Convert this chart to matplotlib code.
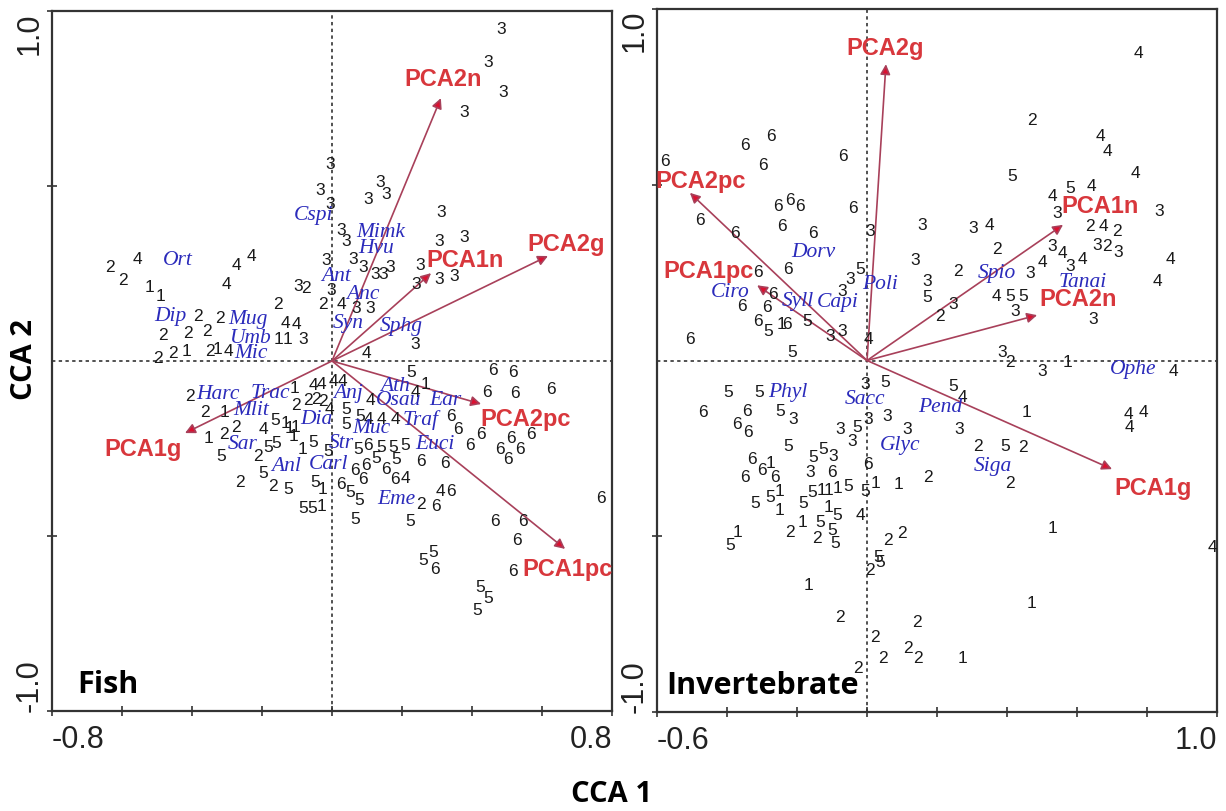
import numpy as np
import matplotlib
matplotlib.use('Agg')
import matplotlib.pyplot as plt

plt.rcParams['font.family'] = ['Liberation Sans', 'DejaVu Sans']

# ---- Fish panel: site scores (digit = site group) ----
fish_sites = ("224114443224411322222221214"
              "333333333333333243334" "33333333333"
              "22112245111122224444455544445416666"
              "25515155522551551655"
              "565556656564666462655"
              "666666666666665566555")
fish_x = [-0.634, -0.597, -0.557, -0.52, -0.489, -0.274, -0.231, -0.303, -0.097, -0.074,
          -0.154, -0.134, -0.103, -0.154, -0.126, -0.083, -0.383, -0.32, -0.483, -0.411,
          -0.357, -0.497, -0.454, -0.417, -0.349, -0.326, -0.297,
          -0.006, -0.034, -0.006, 0.137, 0.154, 0.103, 0.026, 0.04, 0.06, 0.089,
          0.123, 0.146, 0.166, -0.017, -0.003, -0.026, 0.026, 0.069, 0.109, 0.237,
          0.097, 0.311, 0.306, 0.377, 0.251, 0.24, 0.306, 0.349, 0.483, 0.446,
          0.489, 0.377,
          -0.406, -0.363, -0.306, -0.354, -0.309, -0.274, -0.197, -0.163, -0.134, -0.12,
          -0.103, -0.106, -0.103, -0.069, -0.046, -0.026, -0.054, -0.031, 0.003, 0.031,
          -0.006, 0.04, 0.04, 0.08, 0.103, 0.14, 0.18, 0.109, 0.226, 0.237,
          0.266, 0.34, 0.36, 0.394, 0.426,
          -0.211, -0.183, -0.16, -0.111, -0.054, -0.083, -0.011, -0.317, -0.197, -0.263,
          -0.169, -0.126, -0.049, -0.026, -0.083, -0.057, -0.031, 0.026, 0.051, 0.077,
          0.074, 0.103, 0.14, 0.174, 0.209, 0.066, 0.097, 0.126, 0.154, 0.183,
          0.18, 0.209, 0.089, 0.254, 0.323, 0.311, 0.34, 0.254, 0.297, 0.066, 0.223,
          0.46, 0.517, 0.443, 0.523, 0.626, 0.511, 0.569, 0.48, 0.537, 0.503,
          0.466, 0.546, 0.529, 0.769, 0.26, 0.289, 0.294, 0.517, 0.423, 0.446, 0.414]
fish_y = [0.271, 0.234, 0.294, 0.214, 0.186, 0.277, 0.30, 0.22, 0.217, 0.209,
          0.163, 0.109, 0.106, 0.063, 0.063, 0.063, 0.129, 0.123, 0.077, 0.08,
          0.086, 0.009, 0.023, 0.029, 0.031, 0.037, 0.029,
          0.563, 0.491, 0.451, 0.514, 0.48, 0.463, 0.377, 0.343, 0.294, 0.271,
          0.249, 0.249, 0.271, 0.291, 0.203, 0.163, 0.163, 0.154, 0.154, 0.051,
          0.023, 0.426, 0.343, 0.357, 0.277, 0.22, 0.237, 0.243, 0.951, 0.857,
          0.771, 0.714,
          -0.10, -0.143, -0.143, -0.22, -0.206, -0.186, -0.194, -0.166, -0.177, -0.191,
          -0.186, -0.077, -0.123, -0.109, -0.106, -0.114, -0.066, -0.063, -0.057, -0.057,
          -0.137, -0.137, -0.18, -0.157, -0.163, -0.163, -0.163, -0.109, -0.031, -0.086,
          -0.063, -0.157, -0.194, -0.24, -0.206,
          -0.271, -0.243, -0.234, -0.214, -0.229, -0.251, -0.257, -0.271, -0.32, -0.343,
          -0.357, -0.363, -0.343, -0.363, -0.42, -0.42, -0.414, -0.351, -0.374, -0.397,
          -0.251, -0.24, -0.243, -0.243, -0.24, -0.309, -0.297, -0.277, -0.306, -0.28,
          -0.337, -0.334, -0.337, -0.283, -0.289, -0.369, -0.369, -0.406, -0.414, -0.451, -0.457,
          -0.023, -0.029, -0.086, -0.091, -0.08, -0.22, -0.206, -0.249, -0.249, -0.28,
          -0.457, -0.457, -0.509, -0.391, -0.566, -0.543, -0.594, -0.60, -0.643, -0.677, -0.711]

# environmental vectors (fish)
fish_vec = ['PCA2n', 'PCA1n', 'PCA2g', 'PCA2pc', 'PCA1pc', 'PCA1g']
fish_vec_x = [0.311, 0.283, 0.617, 0.426, 0.666, -0.42]
fish_vec_y = [0.751, 0.251, 0.30, -0.123, -0.537, -0.206]
fish_vec_lx = [0.317, 0.38, 0.669, 0.554, 0.674, -0.54]
fish_vec_ly = [0.806, 0.291, 0.337, -0.163, -0.594, -0.251]

# species scores (fish)
fish_sp = ['Ort', 'Cspi', 'Mimk', 'Hvu', 'Ant', 'Anc', 'Syn', 'Sphg', 'Dip', 'Mug',
           'Umb', 'Mic', 'Harc', 'Trac', 'Mlit', 'Dia', 'Anj', 'Sar', 'Str', 'Anl',
           'Carl', 'Muc', 'Ath', 'Osau', 'Ear', 'Traf', 'Euci', 'Eme']
fish_sp_x = [-0.44, -0.054, 0.14, 0.126, 0.011, 0.089, 0.046, 0.197, -0.463, -0.24,
             -0.234, -0.231, -0.326, -0.177, -0.231, -0.046, 0.046, -0.254, 0.026, -0.131,
             -0.011, 0.111, 0.18, 0.189, 0.323, 0.254, 0.294, 0.183]
fish_sp_y = [0.291, 0.42, 0.371, 0.323, 0.243, 0.194, 0.109, 0.10, 0.129, 0.12,
             0.066, 0.023, -0.094, -0.091, -0.14, -0.163, -0.091, -0.237, -0.234, -0.30,
             -0.294, -0.191, -0.071, -0.109, -0.109, -0.166, -0.237, -0.394]

# ---- Invertebrate panel ----
inv_sites = ("6666666666666" "3" "665336666516533465"
             "3335" "424454" "45433" "242323" "34234" "344344" "245533" "2332314"
             "541444325221411"
             "55666653535333533"
             "66166553366211"
             "515111555151541551522522525"
             "12222222")
inv_x = [-0.577, -0.349, -0.274, -0.297, -0.069, -0.254, -0.22, -0.191, -0.04, -0.477,
         -0.377, -0.243, -0.154, 0.009, -0.311, -0.226, -0.02, -0.049, -0.071, -0.269,
         -0.357, -0.286, -0.311, -0.283, -0.243, -0.229, -0.171, -0.106, -0.071, 0.003,
         -0.506, -0.214,
         0.157, 0.137, 0.171, 0.171, 0.774, 0.471, 0.666, 0.686, 0.414, 0.766,
         0.529, 0.58, 0.64, 0.543, 0.834, 0.637, 0.674, 0.714, 0.657, 0.686,
         0.717, 0.303, 0.349, 0.371, 0.529, 0.557, 0.58, 0.614, 0.50, 0.466,
         0.866, 0.831, 0.26, 0.371, 0.409, 0.446, 0.423, 0.646, 0.209, 0.246,
         0.386, 0.409, 0.50, 0.574, 0.874,
         0.246, 0.274, 0.457, 0.746, 0.789, 0.751, 0.263, 0.317, 0.394, 0.446,
         0.409, 0.529, 0.986, 0.471, 0.274,
         -0.397, -0.309, -0.469, -0.343, -0.371, -0.34, -0.249, -0.211, -0.226, -0.006,
         0.051, 0.003, 0.057, -0.077, -0.029, -0.043, 0.114,
         -0.329, -0.30, -0.277, -0.349, -0.263, -0.154, -0.126, -0.097, -0.163, -0.10,
         0.003, 0.174, 0.023, 0.089,
         -0.277, -0.249, -0.157, -0.129, -0.111, -0.083, -0.054, -0.006, -0.32, -0.249,
         -0.183, -0.111, -0.086, -0.02, -0.183, -0.134, -0.10, -0.371, -0.391, -0.22,
         -0.143, -0.091, 0.06, 0.10, 0.031, 0.009, 0.037,
         -0.166, -0.077, 0.143, 0.023, 0.046, 0.117, 0.146, -0.026]
inv_y = [0.569, 0.614, 0.64, 0.557, 0.583, 0.44, 0.457, 0.44, 0.434, 0.40,
         0.363, 0.383, 0.363, 0.369, 0.254, 0.263, 0.263, 0.234, 0.20, 0.191,
         0.157, 0.154, 0.114, 0.086, 0.106, 0.106, 0.114, 0.071, 0.086, 0.063,
         0.063, 0.026,
         0.386, 0.286, 0.229, 0.183, 0.877, 0.686, 0.64, 0.597, 0.526, 0.534,
         0.469, 0.491, 0.497, 0.42, 0.426, 0.383, 0.383, 0.371, 0.329, 0.326,
         0.311, 0.377, 0.386, 0.32, 0.326, 0.306, 0.271, 0.291, 0.283, 0.249,
         0.291, 0.229, 0.257, 0.186, 0.186, 0.186, 0.143, 0.12, 0.129, 0.163,
         0.026, -0.003, -0.029, -0.003, -0.029,
         -0.071, -0.103, -0.146, -0.151, -0.146, -0.189, -0.194, -0.243, -0.243, -0.246,
         -0.346, -0.474, -0.529, -0.689, -0.846,
         -0.089, -0.089, -0.146, -0.143, -0.18, -0.203, -0.143, -0.166, -0.243, -0.066,
         -0.06, -0.166, -0.157, -0.194, -0.189, -0.229, -0.194,
         -0.28, -0.309, -0.289, -0.331, -0.331, -0.274, -0.251, -0.271, -0.317, -0.317,
         -0.294, -0.329, -0.346, -0.351,
         -0.386, -0.371, -0.374, -0.366, -0.366, -0.36, -0.357, -0.371, -0.403, -0.423,
         -0.403, -0.414, -0.437, -0.437, -0.457, -0.457, -0.48, -0.486, -0.523, -0.486,
         -0.503, -0.517, -0.509, -0.489, -0.557, -0.594, -0.571,
         -0.637, -0.729, -0.743, -0.786, -0.846, -0.817, -0.846, -0.874]

inv_vec = ['PCA2g', 'PCA2pc', 'PCA1pc', 'PCA1n', 'PCA2n', 'PCA1g']
inv_vec_x = [0.054, -0.506, -0.314, 0.56, 0.486, 0.70]
inv_vec_y = [0.843, 0.477, 0.214, 0.386, 0.129, -0.309]
inv_vec_lx = [0.051, -0.474, -0.454, 0.666, 0.603, 0.817]
inv_vec_ly = [0.891, 0.511, 0.257, 0.44, 0.177, -0.36]

inv_sp = ['Dorv', 'Poli', 'Ciro', 'Syll', 'Capi', 'Spio', 'Tanai', 'Ophe', 'Phyl',
          'Sacc', 'Pend', 'Glyc', 'Siga']
inv_sp_x = [-0.154, 0.037, -0.391, -0.197, -0.083, 0.371, 0.617, 0.76, -0.226,
            -0.006, 0.209, 0.094, 0.36]
inv_sp_y = [0.311, 0.22, 0.197, 0.171, 0.169, 0.249, 0.226, -0.023, -0.089,
            -0.109, -0.131, -0.24, -0.30]

RED = '#d8373c'
BLUE = '#2b2bbb'
LINE = '#a8405a'
HEAD = '#dc1030'


def draw_panel(ax, sx, sy, sites, vnames, vx, vy, vlx, vly, spn, spx, spy, xlim, tag):
    ax.set_xlim(*xlim)
    ax.set_ylim(-1.0, 1.0)
    ax.axhline(0, color='#222', lw=1.1, ls=(0, (2.2, 2.2)), zorder=1)
    ax.axvline(0, color='#222', lw=1.1, ls=(0, (2.2, 2.2)), zorder=1)

    for n, x, y, lx, ly in zip(vnames, vx, vy, vlx, vly):
        ax.annotate('', xy=(x, y), xytext=(0, 0),
                    arrowprops=dict(arrowstyle='-|>', lw=1.2, ec=LINE, fc=HEAD,
                                    mutation_scale=15, shrinkA=0, shrinkB=0), zorder=2)
        ax.text(lx, ly, n, color=RED, fontsize=17, fontweight='bold',
                ha='center', va='center', zorder=4)

    for x, y, s in zip(sx, sy, sites):
        ax.text(x, y, s, fontsize=12.5, color='#1a1a1a', ha='center', va='center', zorder=3)

    for n, x, y in zip(spn, spx, spy):
        ax.text(x, y, n, fontsize=15.5, color=BLUE, style='italic',
                family='Liberation Serif', ha='center', va='center', zorder=3)

    ax.text(0.045 if tag == 'Fish' else 0.016, 0.038, tag, transform=ax.transAxes,
            fontsize=22, fontweight='bold', family='Open Sans', ha='left', va='center')

    # ticks: every 0.2 on x, only the end values labelled
    xt = np.round(np.arange(xlim[0], xlim[1] + 0.01, 0.2), 1)
    ax.set_xticks(xt)
    ax.set_xticklabels(['%.1f' % xt[0]] + [''] * (len(xt) - 2) + ['%.1f' % xt[-1]])
    ax.set_yticks([-1.0, -0.5, 0.5, 1.0])
    ax.set_yticklabels(['-1.0', '', '', '1.0'], rotation=90)
    ax.tick_params(direction='inout', length=7, width=1.2, color='#333',
                   labelsize=22, labelcolor='#222')
    ax.tick_params(axis='x', pad=6)
    ax.tick_params(axis='y', pad=2)
    xl = ax.get_xticklabels()
    xl[0].set_ha('left')
    xl[-1].set_ha('right')
    yl = ax.get_yticklabels()
    yl[0].set_va('bottom')
    yl[-1].set_va('top')
    for sp in ax.spines.values():
        sp.set_linewidth(1.6)
        sp.set_color('#333')


fig = plt.figure(figsize=(12.26, 8.12), dpi=100)
ax1 = fig.add_axes([0.0424, 0.1232, 0.4568, 0.862])
ax2 = fig.add_axes([0.5359, 0.1219, 0.4568, 0.8658])

draw_panel(ax1, fish_x, fish_y, fish_sites, fish_vec, fish_vec_x, fish_vec_y,
           fish_vec_lx, fish_vec_ly, fish_sp, fish_sp_x, fish_sp_y, (-0.8, 0.8), 'Fish')
draw_panel(ax2, inv_x, inv_y, inv_sites, inv_vec, inv_vec_x, inv_vec_y,
           inv_vec_lx, inv_vec_ly, inv_sp, inv_sp_x, inv_sp_y, (-0.6, 1.0), 'Invertebrate')

fig.text(0.499, 0.022, 'CCA 1', fontsize=21, fontweight='bold', family='Open Sans',
         ha='center', va='center')
fig.text(0.02, 0.557, 'CCA 2', fontsize=21, fontweight='bold', family='Open Sans',
         ha='center', va='center', rotation=90)

fig.savefig('out.png', dpi=100)
